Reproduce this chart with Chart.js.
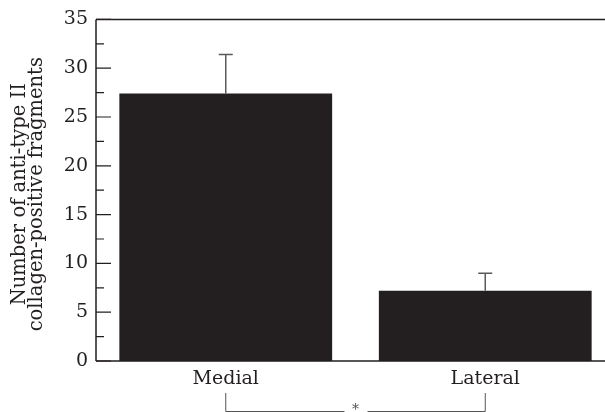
<!DOCTYPE html>
<html>
<head>
<meta charset="utf-8">
<script src="https://cdn.jsdelivr.net/npm/chart.js@4"></script>
<style>
  html, body { margin: 0; padding: 0; background: #fff; }
  #wrap { width: 605px; height: 412px; overflow: hidden; }
</style>
</head>
<body>
<div id="wrap"><canvas id="barChart" width="615" height="412"></canvas></div>
<script>
// Data
const categories = ['Medial', 'Lateral'];
const means = [27.4, 7.2];
const upperErrors = [4.0, 1.8];
const majorTicks = [0, 5, 10, 15, 20, 25, 30, 35];
const minorTicks = [2.5, 7.5, 12.5, 17.5, 22.5, 27.5, 32.5];
const yTitle = ['Number of anti-type II', 'collagen-positive fragments'];
const significanceMark = '*';

const FONT = '"DejaVu Serif", "Liberation Serif", serif';
const INK = '#231f20';

// Error bars, axis frame, inner ticks, y title and the significance bracket
const decorations = {
  id: 'decorations',
  afterDatasetsDraw(chart) {
    const { ctx, chartArea, scales } = chart;
    const x = scales.x, y = scales.y;
    ctx.save();

    // error bars (upper only)
    ctx.strokeStyle = '#5a5a5a';
    ctx.lineWidth = 1.5;
    means.forEach((m, i) => {
      const cx = x.getPixelForValue(i);
      const yTop = y.getPixelForValue(m + upperErrors[i]);
      const yBar = y.getPixelForValue(m);
      ctx.beginPath();
      ctx.moveTo(cx, yBar);
      ctx.lineTo(cx, yTop);
      ctx.moveTo(cx - 7, yTop);
      ctx.lineTo(cx + 7, yTop);
      ctx.stroke();
    });

    // frame: left, top, bottom
    ctx.strokeStyle = INK;
    ctx.lineWidth = 1.5;
    ctx.beginPath();
    ctx.moveTo(chartArea.left, chartArea.top);
    ctx.lineTo(chartArea.left, chartArea.bottom);
    ctx.moveTo(chartArea.left, chartArea.top);
    ctx.lineTo(chartArea.right, chartArea.top);
    ctx.moveTo(chartArea.left, chartArea.bottom);
    ctx.lineTo(chartArea.right, chartArea.bottom);
    ctx.stroke();

    // inward ticks
    ctx.lineWidth = 1.2;
    ctx.beginPath();
    majorTicks.forEach(v => {
      const py = y.getPixelForValue(v);
      ctx.moveTo(chartArea.left, py);
      ctx.lineTo(chartArea.left + 15, py);
    });
    minorTicks.forEach(v => {
      const py = y.getPixelForValue(v);
      ctx.moveTo(chartArea.left, py);
      ctx.lineTo(chartArea.left + 8, py);
    });
    ctx.stroke();

    // y axis title, two lines rotated
    ctx.fillStyle = INK;
    ctx.font = '19.5px ' + FONT;
    ctx.textAlign = 'center';
    ctx.textBaseline = 'middle';
    const midY = (chartArea.top + chartArea.bottom) / 2 + 4;
    [20, 37].forEach((tx, i) => {
      ctx.save();
      ctx.translate(tx, midY);
      ctx.rotate(-Math.PI / 2);
      ctx.fillText(yTitle[i], 0, 0);
      ctx.restore();
    });

    // significance bracket under the categories
    const x0 = x.getPixelForValue(0), x1 = x.getPixelForValue(1);
    const mid = (x0 + x1) / 2;
    const by = 411.5, topY = 393;
    ctx.strokeStyle = '#555';
    ctx.lineWidth = 1;
    ctx.beginPath();
    ctx.moveTo(x0, topY);
    ctx.lineTo(x0, by);
    ctx.lineTo(mid - 11, by);
    ctx.moveTo(mid + 12, by);
    ctx.lineTo(x1, by);
    ctx.lineTo(x1, topY);
    ctx.stroke();
    ctx.font = '14px ' + FONT;
    ctx.fillStyle = '#555';
    ctx.fillText(significanceMark, mid, by - 1);

    ctx.restore();
  }
};

new Chart(document.getElementById('barChart'), {
  type: 'bar',
  data: {
    labels: categories,
    datasets: [{
      data: means,
      backgroundColor: INK,
      borderWidth: 0,
      categoryPercentage: 1,
      barPercentage: 0.82
    }]
  },
  options: {
    responsive: false,
    animation: false,
    events: [],
    layout: { padding: { top: 18, left: 0, right: 0, bottom: 0 } },
    plugins: { legend: { display: false }, tooltip: { enabled: false } },
    scales: {
      x: {
        grid: { display: false, drawTicks: false },
        border: { display: false },
        ticks: { color: INK, font: { family: FONT, size: 19 }, padding: 7 },
        afterFit(scale) { scale.height = 51; }
      },
      y: {
        min: 0,
        max: 35,
        grid: { display: false, drawTicks: false },
        border: { display: false },
        ticks: { stepSize: 5, color: INK, font: { family: FONT, size: 19 }, padding: 8 },
        afterFit(scale) { scale.width = 96; }
      }
    }
  },
  plugins: [decorations]
});
</script>
</body>
</html>
